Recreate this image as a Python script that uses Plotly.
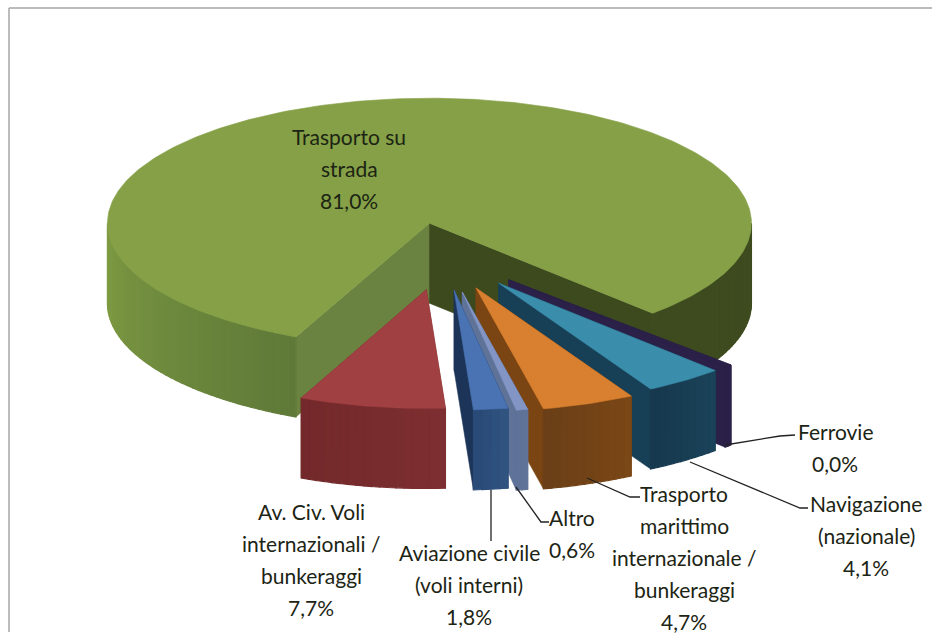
import math
import plotly.graph_objects as go

# ---- data ----
labels = ["Trasporto su strada", "Ferrovie", "Navigazione (nazionale)",
          "Trasporto marittimo internazionale / bunkeraggi", "Altro",
          "Aviazione civile (voli interni)", "Av. Civ. Voli internazionali / bunkeraggi"]
values = [81.0, 0.0, 4.1, 4.7, 0.6, 1.8, 7.7]
explode = [0.25, 0.29, 0.29, 0.29, 0.31, 0.29, 0.29]
radius = [1.0, 0.97, 0.97, 0.99, 0.96, 0.96, 0.95]
top_colors = ["#85a046", "#2a2048", "#3a8dab", "#d8802f", "#8295c4", "#4a73b3", "#a04042"]
start_cut = ["#6b8340", "#2a2048", "#174056", "#7b4413", "#5f7298", "#1c3458", "#7a2c2e"]
end_cut = ["#3d4a1e", "#2a2048", "#174056", "#7b4413", "#5f7298", "#1c3458", "#7a2c2e"]
arc_shades = [
    [("#5f7a38", "#7f9c43"), ("#3e4b1f", "#3e4b1f")],
    [("#2a2048", "#2a2048")],
    [("#1a4258", "#17394f")],
    [("#7a4716", "#6b3f17")],
    [("#5f7298", "#5f7298")],
    [("#30537f", "#2a4a78")],
    [("#7d2e30", "#73292b")],
]
text_lines = [
    (["Trasporto su", "strada", "81,0%"], 349, 136),
    (["Ferrovie", "0,0%"], 835, 431),
    (["Navigazione", "(nazionale)", "4,1%"], 866, 503),
    (["Trasporto", "marittimo", "internazionale /", "bunkeraggi", "4,7%"], 684, 493),
    (["Altro", "0,6%"], 572, 517),
    (["Aviazione civile", "(voli interni)", "1,8%"], 469, 552),
    (["Av. Civ. Voli", "internazionali /", "bunkeraggi", "7,7%"], 311, 511),
]
leaders = [
    ([725, 780, 795], [445, 436, 435]),
    ([690, 800, 808], [462, 508, 508]),
    ([587, 630, 640], [478, 497, 497]),
    ([516, 541, 549], [487, 522, 522]),
    ([491, 491], [490, 541]),
]

# ---- geometry settings ----
CX, CY = 443, 254
RX, RY = 322, 125
H = 80
START = 204.5
ZERO_SLIVER = 1.5
LINE_GAP = 32


def hexmix(a, b, t):
    ca = [int(a[i:i + 2], 16) for i in (1, 3, 5)]
    cb = [int(b[i:i + 2], 16) for i in (1, 3, 5)]
    return "#%02x%02x%02x" % tuple(round(p + (q - p) * t) for p, q in zip(ca, cb))


def pt(ax, ay, r, deg):
    t = math.radians(deg)
    return ax + RX * r * math.sin(t), ay - RY * r * math.cos(t)


def poly(fig, pts, color, w=0.6):
    xs = [p[0] for p in pts] + [pts[0][0]]
    ys = [p[1] for p in pts] + [pts[0][1]]
    fig.add_trace(go.Scatter(x=xs, y=ys, mode="lines", fill="toself", fillcolor=color,
                             line=dict(color=color, width=w), hoverinfo="skip",
                             showlegend=False))


def visible(a, b):
    out = []
    for m in (-360, 0, 360):
        lo, hi = max(a, 90 + m), min(b, 270 + m)
        if hi > lo:
            out.append((lo, hi))
    return out


fig = go.Figure()
angle = START
for i, v in enumerate(values):
    span = v * 3.6
    a, b = angle, angle + span
    angle = b
    if v == 0:
        a, b = a - ZERO_SLIVER, a
    mid = (a + b) / 2
    t = math.radians(mid)
    ax = CX + explode[i] * RX * math.sin(t)
    ay = CY - explode[i] * RY * math.cos(t)
    r = radius[i]
    # cut walls
    for deg, col in ((a, start_cut[i]), (b, end_cut[i])):
        p = pt(ax, ay, r, deg)
        poly(fig, [(ax, ay), p, (p[0], p[1] + H), (ax, ay + H)], col)
    # outer wall, as fine bands for a soft shade
    segs = visible(a, b)
    for seg, shade in zip(segs, arc_shades[i]):
        n = max(2, int((seg[1] - seg[0]) / 1.5))
        for k in range(n):
            d0 = seg[0] + (seg[1] - seg[0]) * k / n
            d1 = seg[0] + (seg[1] - seg[0]) * (k + 1) / n
            m = 3
            up = [pt(ax, ay, r, d0 + (d1 - d0) * q / m) for q in range(m + 1)]
            down = [(p[0], p[1] + H) for p in reversed(up)]
            poly(fig, up + down, hexmix(shade[0], shade[1], k / max(1, n - 1)), w=1.2)
    # top face
    n = max(2, int(b - a))
    arc = [pt(ax, ay, r, a + (b - a) * k / n) for k in range(n + 1)]
    poly(fig, [(ax, ay)] + arc, top_colors[i])

for xs, ys in leaders:
    fig.add_trace(go.Scatter(x=xs, y=ys, mode="lines", line=dict(color="#222222", width=1.3),
                             hoverinfo="skip", showlegend=False))

annotations = []
for lines, x, y in text_lines:
    for j, line in enumerate(lines):
        annotations.append(dict(x=x, y=y + j * LINE_GAP, text=line, showarrow=False,
                                xref="x", yref="y", xanchor="center", yanchor="middle",
                                font=dict(family="Lato", size=21, color="#1c2414")))

frame = dict(color="#a6a6a6", width=1.5)
fig.update_layout(
    width=932, height=640, margin=dict(l=0, r=0, t=0, b=0),
    paper_bgcolor="white", plot_bgcolor="white",
    xaxis=dict(range=[0, 932], visible=False, fixedrange=True),
    yaxis=dict(range=[640, 0], visible=False, fixedrange=True),
    annotations=annotations,
    shapes=[
        dict(type="line", xref="x", yref="y", x0=9, y0=8, x1=932, y1=8, line=frame, layer="below"),
        dict(type="line", xref="x", yref="y", x0=9, y0=8, x1=9, y1=632, line=frame, layer="below"),
    ],
)
fig.write_html("out.html", config={"displayModeBar": False},
               post_script="document.body.style.margin='0';document.documentElement.style.overflow='hidden';")
